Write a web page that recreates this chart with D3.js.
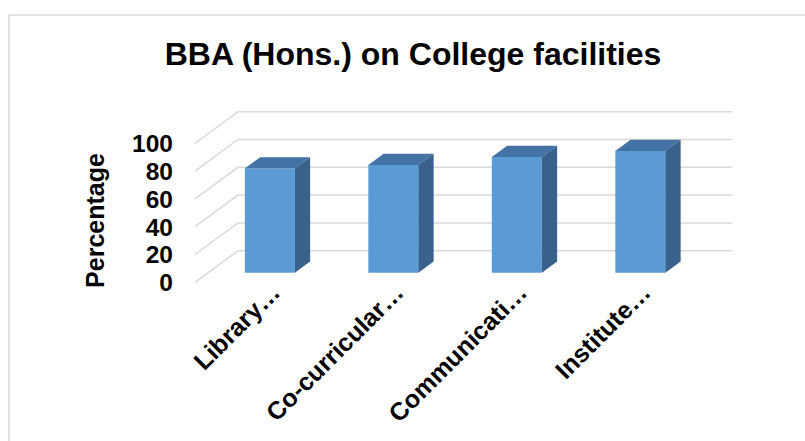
<!DOCTYPE html>
<html>
<head>
<meta charset="utf-8">
<script src="https://cdn.jsdelivr.net/npm/d3@7"></script>
<style>
  body { margin: 0; background: #ffffff; }
  text { font-family: "Liberation Sans", Arial, sans-serif; font-weight: bold; fill: #000000; }
</style>
</head>
<body>
<script>
// chart data
var categories = ['Library\u2026', 'Co-curricular\u2026', 'Communicati\u2026', 'Institute\u2026'];
var values = [75, 77.5, 83.3, 87.6];
var yTicks = [0, 20, 40, 60, 80, 100];
var chartTitle = 'BBA (Hons.) on College facilities';
var yTitle = 'Percentage';

var svgCanvasW = 805, svgCanvasH = 441;

// depth of the 3d box (shift of the back wall)
var depthX = 43, depthY = -31.6;
var barZ0 = 0.304, barZ1 = 0.66;

var x = d3.scaleBand()
    .domain(categories)
    .range([195, 689])
    .paddingInner(0.595)
    .paddingOuter(0.2975);

var y = d3.scaleLinear()
    .domain([0, 100])
    .range([282.3, 143.3]);

// project a point (x, value, depth) onto the screen
function proj(px, v, z) {
    return [px + depthX * z, y(v) + depthY * z];
}

var mainLayout = d3.select('body')
    .append('svg')
    .attr('width', svgCanvasW)
    .attr('height', svgCanvasH);

//chart border
mainLayout.append('rect')
    .attr('x', 9)
    .attr('y', 15)
    .attr('width', 830)
    .attr('height', 460)
    .style('fill', '#ffffff')
    .style('stroke', '#d9d9d9')
    .style('stroke-width', 1.5);

//title
mainLayout.append('text')
    .attr('x', 413)
    .attr('y', 65)
    .attr('text-anchor', 'middle')
    .style('font-size', '32px')
    .text(chartTitle);

//gridlines on side wall and back wall
var x0 = x.range()[0], x1 = x.range()[1];
var grid = mainLayout.append('g');
yTicks.forEach(function (v) {
    var a = proj(x0, v, 0), b = proj(x0, v, 1), c = proj(x1, v, 1);
    grid.append('polyline')
        .attr('points', [a, b, c].map(function (p) { return p.join(','); }).join(' '))
        .style('fill', 'none')
        .style('stroke', '#d9d9d9')
        .style('stroke-width', 1.5);
});

//y tick labels
mainLayout.append('g')
    .selectAll('text')
    .data(yTicks)
    .enter()
    .append('text')
    .attr('x', 173)
    .attr('y', function (d) { return y(d); })
    .attr('dy', '0.36em')
    .attr('text-anchor', 'end')
    .style('font-size', '24.5px')
    .text(function (d) { return d; });

//y axis title
mainLayout.append('text')
    .attr('transform', 'translate(104,220.5) rotate(-90)')
    .attr('text-anchor', 'middle')
    .style('font-size', '25px')
    .text(yTitle);

//3d bars
var bars = mainLayout.append('g')
    .selectAll('g')
    .data(values)
    .enter()
    .append('g');

function pts(list) {
    return list.map(function (p) { return p.join(','); }).join(' ');
}

bars.append('polygon')
    .attr('points', function (d, i) {
        var l = x(categories[i]), r = l + x.bandwidth();
        return pts([proj(l, 0, barZ0), proj(r, 0, barZ0), proj(r, d, barZ0), proj(l, d, barZ0)]);
    })
    .style('fill', '#5b9bd5');

bars.append('polygon')
    .attr('points', function (d, i) {
        var l = x(categories[i]), r = l + x.bandwidth();
        return pts([proj(l, d, barZ0), proj(r, d, barZ0), proj(r, d, barZ1), proj(l, d, barZ1)]);
    })
    .style('fill', '#4373a5');

bars.append('polygon')
    .attr('points', function (d, i) {
        var r = x(categories[i]) + x.bandwidth();
        return pts([proj(r, 0, barZ0), proj(r, 0, barZ1), proj(r, d, barZ1), proj(r, d, barZ0)]);
    })
    .style('fill', '#38618c');

//category labels
mainLayout.append('g')
    .selectAll('text')
    .data(categories)
    .enter()
    .append('text')
    .attr('transform', function (d) {
        return 'translate(' + (x(d) + x.bandwidth() / 2 + 25) + ',294) rotate(-45)';
    })
    .attr('text-anchor', 'end')
    .style('font-size', '25px')
    .text(function (d) { return d; });
</script>
</body>
</html>
